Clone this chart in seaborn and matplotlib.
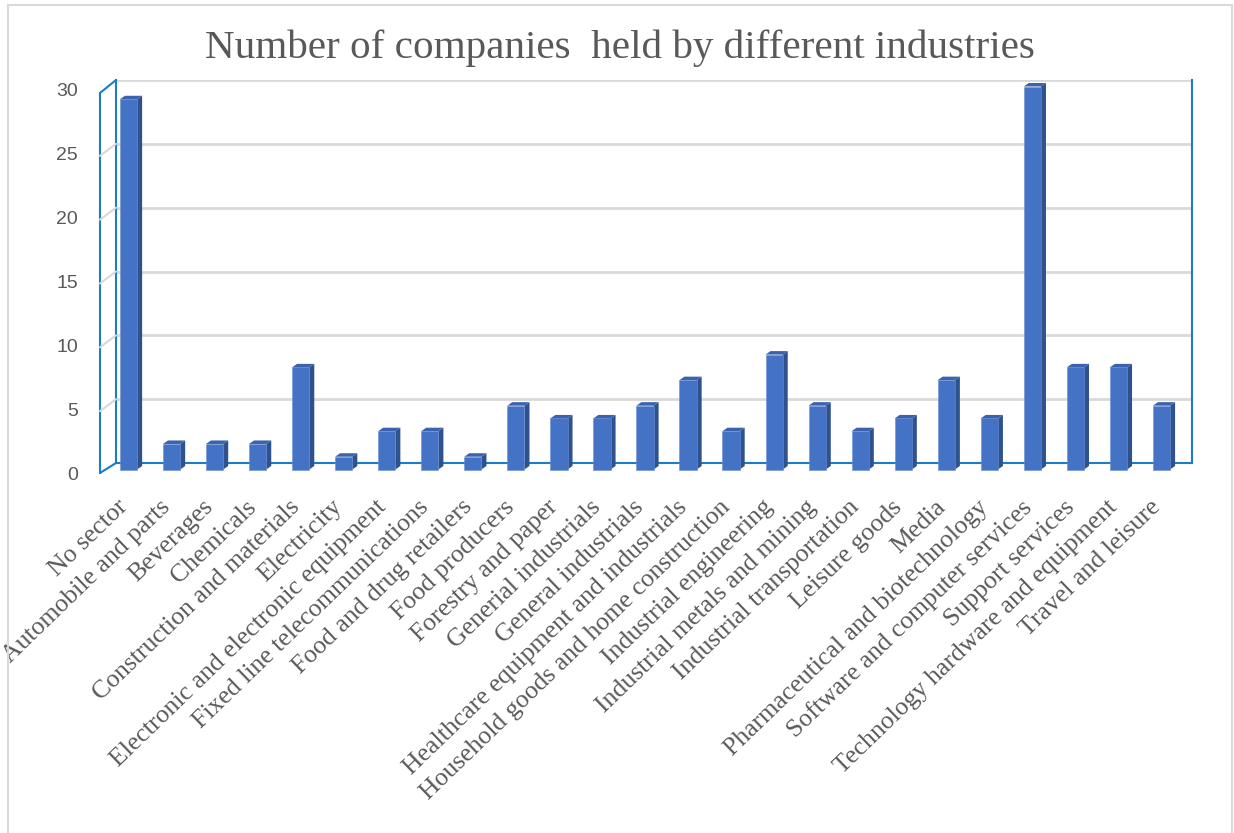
import matplotlib
matplotlib.use("Agg")
import matplotlib.pyplot as plt
import numpy as np
import pandas as pd
import seaborn as sns
from matplotlib.patches import Polygon
from matplotlib.lines import Line2D
from matplotlib.transforms import ScaledTranslation

# ---------------- data ----------------
industries = [
    "No sector", "Automobile and parts", "Beverages", "Chemicals",
    "Construction and materials", "Electricity",
    "Electronic and electronic equipment", "Fixed line telecommunications",
    "Food and drug retailers", "Food producers", "Forestry and paper",
    "Generial industrials", "General industrials",
    "Healthcare equipment and industrials",
    "Household goods and home construction", "Industrial engineering",
    "Industrial metals and mining", "Industrial transportation",
    "Leisure goods", "Media", "Pharmaceutical and biotechnology",
    "Software and computer services", "Support services",
    "Technology hardware and equipment", "Travel and leisure",
]
counts = [29, 2, 2, 2, 8, 1, 3, 3, 1, 5, 4, 4, 5, 7, 3, 9, 5, 3, 4, 7, 4, 30, 8, 8, 5]
y_ticks = [0, 5, 10, 15, 20, 25, 30]
title = "Number of companies  held by different industries"

# ---------------- style ----------------
sns.set_theme(style="white")
plt.rcParams["font.family"] = ["Liberation Serif", "DejaVu Serif"]

FRONT = "#4472C4"
SIDE = "#2F528F"
TOP = "#3A62AE"
AXBLUE = "#1A7DC9"
GRID = "#D9D9D9"
TXT = "#595959"

W, H = 1234, 833
fig = plt.figure(figsize=(W / 100, H / 100), dpi=100)
fig.patch.set_facecolor("white")
PX = fig.dpi_scale_trans  # inches -> display


def px(x, y):
    """pixel (from top-left) -> inches for dpi_scale_trans"""
    return x / 100, (H - y) / 100


# back wall of the 3-D plot area (pixels)
L, R, B, T = 116, 1192, 463, 80
ax = fig.add_axes([L / W, 1 - B / H, (R - L) / W, (B - T) / H])

df = pd.DataFrame({"industry": industries, "count": counts})
sns.barplot(data=df, x="industry", y="count", ax=ax, color=FRONT,
            saturation=1, width=0.40, edgecolor="#6A8FD3", linewidth=0.4,
            zorder=3)
n = len(industries)
ax.set_xlim(-0.5, n - 0.5)
ax.set_ylim(0, 30)
ax.set_yticks(y_ticks)
ax.set_xticks(range(n))
ax.tick_params(axis="both", length=0, labelleft=False, labelbottom=False)
ax.set_xlabel("")
ax.set_ylabel("")
ax.yaxis.grid(True, color=GRID, lw=2.0, zorder=0)
ax.set_axisbelow(True)
ax.spines["top"].set_visible(False)
for s in ["left", "right", "bottom"]:
    ax.spines[s].set_color(AXBLUE)
    ax.spines[s].set_linewidth(1.5)

ux = (R - L) / n      # px per category
uy = (B - T) / 30.0   # px per unit
# front face offset (bars stand in front of back wall)
fdx, fdy = -9.0 / ux, -6.5 / uy
# depth of bar (side/top faces)
ddx, ddy = 5.0 / ux, 3.5 / uy

for p in list(ax.patches):
    x0 = p.get_x() + fdx
    w = p.get_width()
    h = p.get_height()
    y0 = p.get_y() + fdy
    p.set_x(x0)
    p.set_y(y0)
    p.set_clip_on(False)
    x1 = x0 + w
    y1 = y0 + h
    side = Polygon([(x1, y0), (x1, y1), (x1 + ddx, y1 + ddy), (x1 + ddx, y0 + ddy)],
                   closed=True, facecolor=SIDE, edgecolor="none", zorder=2.9,
                   clip_on=False)
    top = Polygon([(x0, y1), (x1, y1), (x1 + ddx, y1 + ddy), (x0 + ddx, y1 + ddy)],
                  closed=True, facecolor=TOP, edgecolor="none", zorder=3.1,
                  clip_on=False)
    ax.add_patch(side)
    ax.add_patch(top)

# left wall (3-D side)
wall_dx = 16
fl_x = L - wall_dx
for (xa, ya), (xb, yb) in [((fl_x, T + 13), (L, T)),
                           ((fl_x, B + 10), (L, B)),
                           ((fl_x, T + 13), (fl_x, B + 10))]:
    fig.add_artist(Line2D([px(xa, ya)[0], px(xb, yb)[0]],
                          [px(xa, ya)[1], px(xb, yb)[1]],
                          transform=PX, color=AXBLUE, lw=1.5))
for v in y_ticks[1:-1]:
    yb = B - v * uy
    fig.add_artist(Line2D([px(fl_x, yb + 12)[0], px(L, yb)[0]],
                          [px(fl_x, yb + 12)[1], px(L, yb)[1]],
                          transform=PX, color=GRID, lw=1.5))

# y tick labels (aligned with front edge)
for v in y_ticks:
    yb = B - v * uy
    xx, yy = px(78, yb + 12)
    fig.text(xx, yy, str(v), transform=PX, ha="right", va="center",
             fontsize=14, color=TXT, family=["Liberation Sans", "DejaVu Sans"])

# x tick labels
lab_off = ScaledTranslation(-21 / 100, -33 / 100, fig.dpi_scale_trans)
for i, lab in enumerate(industries):
    ax.text(i, 0, lab, transform=ax.transData + lab_off, rotation=44,
            rotation_mode="anchor", ha="right", va="top", fontsize=18.5,
            color=TXT, clip_on=False)

# title
tx, ty = px(620, 48)
fig.text(tx, ty, title, transform=PX, ha="center", va="center",
         fontsize=29.6, color=TXT)

# outer chart border
for (xa, ya), (xb, yb) in [((8, H + 5), (8, 5)), ((8, 5), (1232, 5)),
                           ((1232, 5), (1232, H + 5))]:
    fig.add_artist(Line2D([px(xa, ya)[0], px(xb, yb)[0]],
                          [px(xa, ya)[1], px(xb, yb)[1]],
                          transform=PX, color=GRID, lw=1.5))

fig.savefig("out.png", dpi=100)
